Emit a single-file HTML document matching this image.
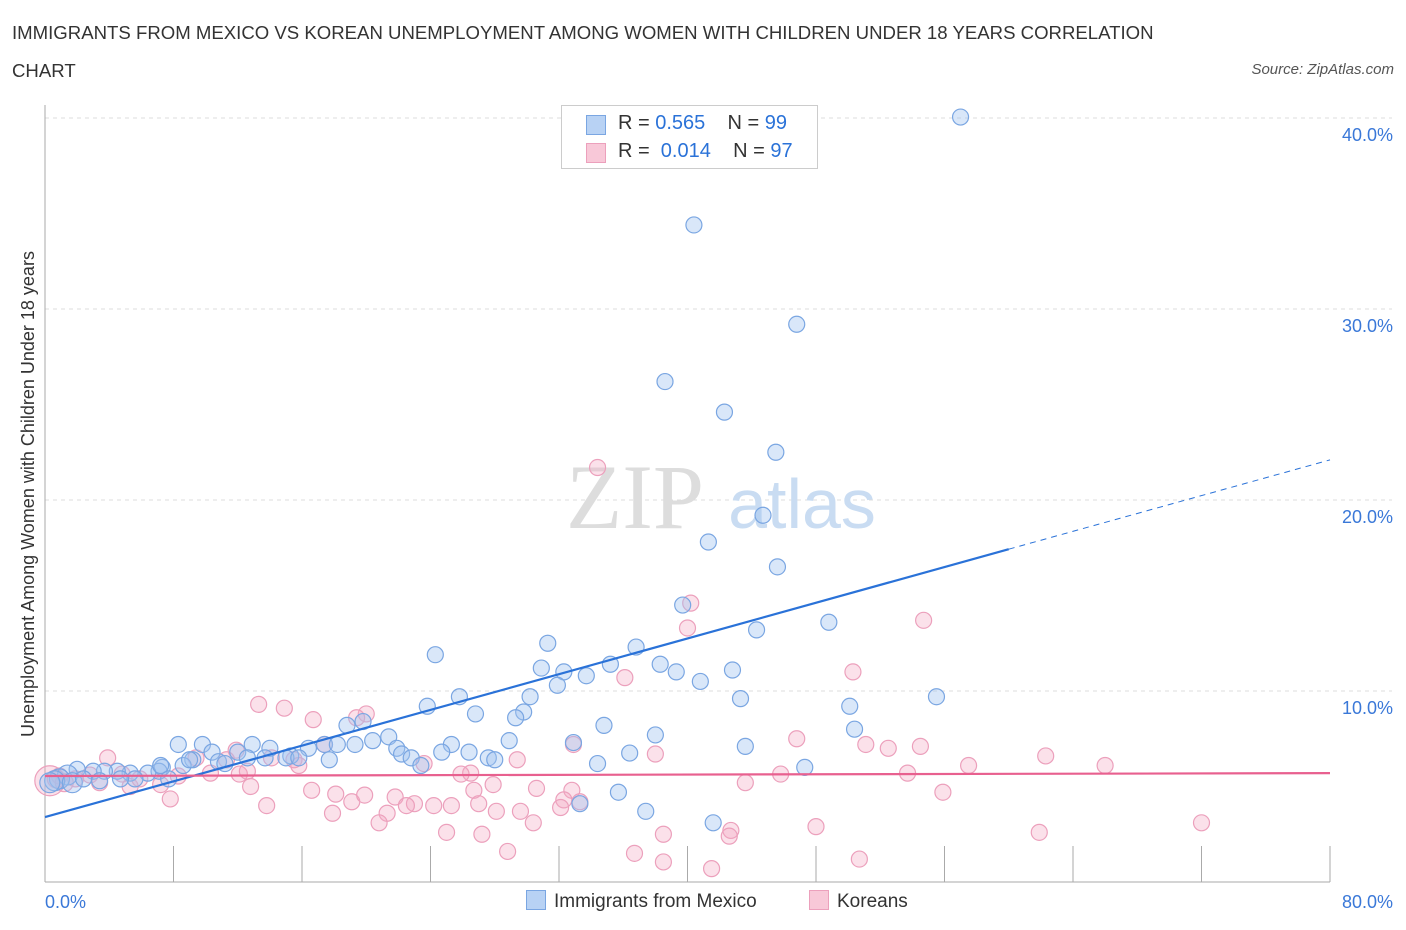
<!DOCTYPE html>
<html><head><meta charset="utf-8"><style>
body{margin:0;background:#fff;font-family:"Liberation Sans",sans-serif;}
#wrap{position:relative;width:1406px;height:930px;overflow:hidden;}
.t{position:absolute;white-space:nowrap;}
</style></head><body>
<div id="wrap">
<div class="t" style="left:12px;top:14px;font-size:18.6px;color:#333;line-height:38px;">IMMIGRANTS FROM MEXICO VS KOREAN UNEMPLOYMENT AMONG WOMEN WITH CHILDREN UNDER 18 YEARS CORRELATION<br>CHART</div>
<div class="t" style="right:12px;top:61px;font-size:15px;color:#555;font-style:italic;">Source: ZipAtlas.com</div>
<svg id="svg" width="1406" height="930" style="position:absolute;left:0;top:0"></svg>
</div>
<script>
const xTicksVals=[0,8,16,24,32,40,48,56,64,72,80];
const yTickVals=[10,20,30,40];
const yTickLabels=["10.0%","20.0%","30.0%","40.0%"];
const mexX=[57.0,40.4,46.8,38.6,42.3,45.5,44.7,41.3,45.6,39.7,44.3,48.8,31.3,36.8,24.3,32.3,30.9,35.2,38.3,39.3,42.8,33.7,31.9,40.8,55.5,43.3,30.2,25.8,23.8,50.1,26.8,29.8,29.3,19.8,18.8,34.8,50.4,21.4,20.4,38.0,28.9,8.3,9.8,12.9,17.4,18.2,19.3,25.3,32.9,43.6,21.9,22.2,10.4,12.0,14.0,16.4,24.7,26.4,36.4,22.8,27.6,28.0,13.7,15.3,17.7,15.0,15.8,9.2,10.8,8.6,23.4,34.4,47.3,7.3,7.1,6.4,5.3,4.5,3.7,3.0,2.0,1.4,0.9,0.6,0.3,1.7,2.4,3.4,5.6,7.7,35.7,33.3,37.4,41.6,9.0,7.2,12.6,11.2,4.7];
const mexY=[40.05,34.4,29.2,26.2,24.6,22.5,19.2,17.8,16.5,14.5,13.2,13.6,12.5,12.3,11.9,11.0,11.2,11.4,11.4,11.0,11.1,10.8,10.3,10.5,9.7,9.6,9.7,9.7,9.2,9.2,8.8,8.9,8.6,8.4,8.2,8.2,8.0,7.6,7.4,7.7,7.4,7.2,7.2,7.2,7.2,7.2,7.2,7.2,7.3,7.1,7.0,6.7,6.8,6.8,7.0,7.0,6.8,6.8,6.75,6.5,6.5,6.4,6.5,6.6,6.4,6.5,6.5,6.4,6.3,6.1,6.1,6.2,6.0,6.0,5.8,5.7,5.7,5.8,5.8,5.8,5.9,5.6,5.4,5.3,5.2,5.2,5.4,5.3,5.4,5.4,4.7,4.1,3.7,3.1,6.4,6.1,6.5,6.2,5.4];
const korX=[34.4,40.2,54.7,40.0,50.3,36.1,13.3,14.9,20.0,16.7,19.4,46.8,51.1,54.5,17.4,32.9,52.5,38.0,11.9,62.3,3.9,9.4,11.3,14.1,15.5,29.4,15.8,23.6,57.5,66.0,26.5,25.9,45.8,53.7,10.3,12.1,12.6,8.3,4.8,2.8,1.9,0.9,3.4,5.3,7.2,5.9,43.6,55.9,30.6,32.8,26.7,12.8,18.1,16.6,7.8,13.8,19.1,19.9,21.8,23.0,24.2,25.3,27.0,28.1,21.3,22.5,27.9,17.9,20.8,29.6,32.3,32.1,33.3,30.4,48.0,42.7,42.6,25.0,27.2,38.5,61.9,72.0,28.8,36.7,38.5,50.7,41.5,0.3,0.7,1.2];
const korY=[21.7,14.6,13.7,13.3,11.0,10.7,9.3,9.1,8.8,8.5,8.6,7.5,7.2,7.1,7.2,7.2,7.0,6.7,6.9,6.6,6.5,6.5,6.4,6.5,6.4,6.4,6.1,6.2,6.1,6.1,5.7,5.65,5.65,5.7,5.7,5.65,5.8,5.55,5.65,5.6,5.4,5.55,5.2,5.0,5.1,5.4,5.2,4.7,4.9,4.8,4.8,5.0,4.6,4.8,4.35,4.0,4.2,4.55,4.45,4.1,4.0,4.0,4.1,3.7,3.6,4.0,5.1,3.6,3.1,3.7,4.3,3.9,4.2,3.1,2.9,2.7,2.4,2.6,2.5,2.5,2.6,3.1,1.6,1.5,1.05,1.2,0.7,5.3,5.4,5.2];
const mexTrend=[3.4,22.1];
const korTrend=[5.55,5.7];
const X0=45,X1=1330,Y0=882,Y40=118;
const sx=v=>X0+(v/80)*(X1-X0);
const sy=v=>Y0-(v/40)*(Y0-Y40);
const svg=document.getElementById('svg');
const NS='http://www.w3.org/2000/svg';
function mk(tag,attrs){const e=document.createElementNS(NS,tag);for(const k in attrs)e.setAttribute(k,attrs[k]);svg.appendChild(e);return e;}
yTickVals.forEach((v,i)=>{
 const g=mk('line',{x1:X0,x2:1392,y1:sy(v),y2:sy(v),stroke:'#ddd','stroke-dasharray':'4,4'});
 
 
 const t=mk('text',{x:1393,y:sy(v)+23,'text-anchor':'end','font-size':18,fill:'#3a78d8','font-family':'Liberation Sans'});
 t.textContent=yTickLabels[i];
 
 
});
const ax=mk('line',{x1:X0,x2:X1,y1:Y0,y2:Y0,stroke:'#aaa'});


const ay=mk('line',{x1:X0,x2:X0,y1:105,y2:Y0,stroke:'#aaa'});


xTicksVals.forEach(v=>{
 const l=mk('line',{x1:sx(v),x2:sx(v),y1:Y0-36,y2:Y0,stroke:'#aaa'});
 
 
});
[[0,'0.0%','start',45],[80,'80.0%','end',1393]].forEach(a=>{
 const t=mk('text',{x:a[3],y:908,'text-anchor':a[2],'font-size':18,fill:'#3a78d8','font-family':'Liberation Sans'});
 t.textContent=a[1];
 
 
});
const yt=mk('text',{x:0,y:0,'font-size':18,fill:'#333','text-anchor':'middle','font-family':'Liberation Sans',transform:'translate(34,494) rotate(-90)'});
yt.textContent='Unemployment Among Women with Children Under 18 years';


const w1=mk('text',{x:635,y:528,'font-size':92,fill:'#ddd','text-anchor':'middle','font-family':'Liberation Serif'});
w1.textContent='ZIP';


const w2=mk('text',{x:802,y:528,'font-size':70,fill:'#c9dcf2','text-anchor':'middle','font-family':'Liberation Sans'});
w2.textContent='atlas';


korX.forEach((v,i)=>{
 const r=i>=korX.length-3?(i===korX.length-3?15:9):8;
 const c=mk('circle',{cx:sx(v),cy:sy(korY[i]),r:r,fill:'rgba(244,170,196,0.35)',stroke:'#eca0bc','stroke-width':1.2});
 
 
});
mexX.forEach((v,i)=>{
 const r=(mexX[i]<2)?10:8;
 const c=mk('circle',{cx:sx(v),cy:sy(mexY[i]),r:r,fill:'rgba(160,196,240,0.4)',stroke:'#7aa6e2','stroke-width':1.2});
 
 
});
const xSolidEnd=60;
const ty=(t,x)=>t[0]+(t[1]-t[0])*x/80;
const bl=mk('line',{x1:sx(0),y1:sy(ty(mexTrend,0)),x2:sx(xSolidEnd),y2:sy(ty(mexTrend,xSolidEnd)),stroke:'#2a72d8','stroke-width':2.2});


const bd=mk('line',{x1:sx(xSolidEnd),y1:sy(ty(mexTrend,xSolidEnd)),x2:sx(80),y2:sy(ty(mexTrend,80)),stroke:'#2a72d8','stroke-width':1,'stroke-dasharray':'6,5'});


const pl=mk('line',{x1:sx(0),y1:sy(korTrend[0]),x2:sx(80),y2:sy(korTrend[1]),stroke:'#e8608f','stroke-width':2.2});


</script>
<div class="t" style="left:561px;top:105px;width:255px;height:62px;border:1px solid #ccc;background:#fff;font-size:20px;color:#333;">
 <div style="position:absolute;left:24px;top:9px;width:20px;height:20px;background:#b8d2f4;border:1px solid #7aa6e2;box-sizing:border-box"></div>
 <div style="position:absolute;left:56px;top:6px">R = <span style="color:#2a72d8">0.565</span>&nbsp;&nbsp;&nbsp; N = <span style="color:#2a72d8">99</span></div>
 <div style="position:absolute;left:24px;top:37px;width:20px;height:20px;background:#f8c8d8;border:1px solid #eca0bc;box-sizing:border-box"></div>
 <div style="position:absolute;left:56px;top:34px">R = &nbsp;<span style="color:#2a72d8">0.014</span>&nbsp;&nbsp;&nbsp; N = <span style="color:#2a72d8">97</span></div>
</div>
<div class="t" style="left:526px;top:890px;font-size:19px;color:#333;">
 <span style="display:inline-block;width:20px;height:20px;background:#b8d2f4;border:1px solid #7aa6e2;box-sizing:border-box;vertical-align:-3px;margin-right:8px"></span>Immigrants from Mexico</div>
<div class="t" style="left:809px;top:890px;font-size:19px;color:#333;">
 <span style="display:inline-block;width:20px;height:20px;background:#f8c8d8;border:1px solid #eca0bc;box-sizing:border-box;vertical-align:-3px;margin-right:8px"></span>Koreans</div>
</body></html>
